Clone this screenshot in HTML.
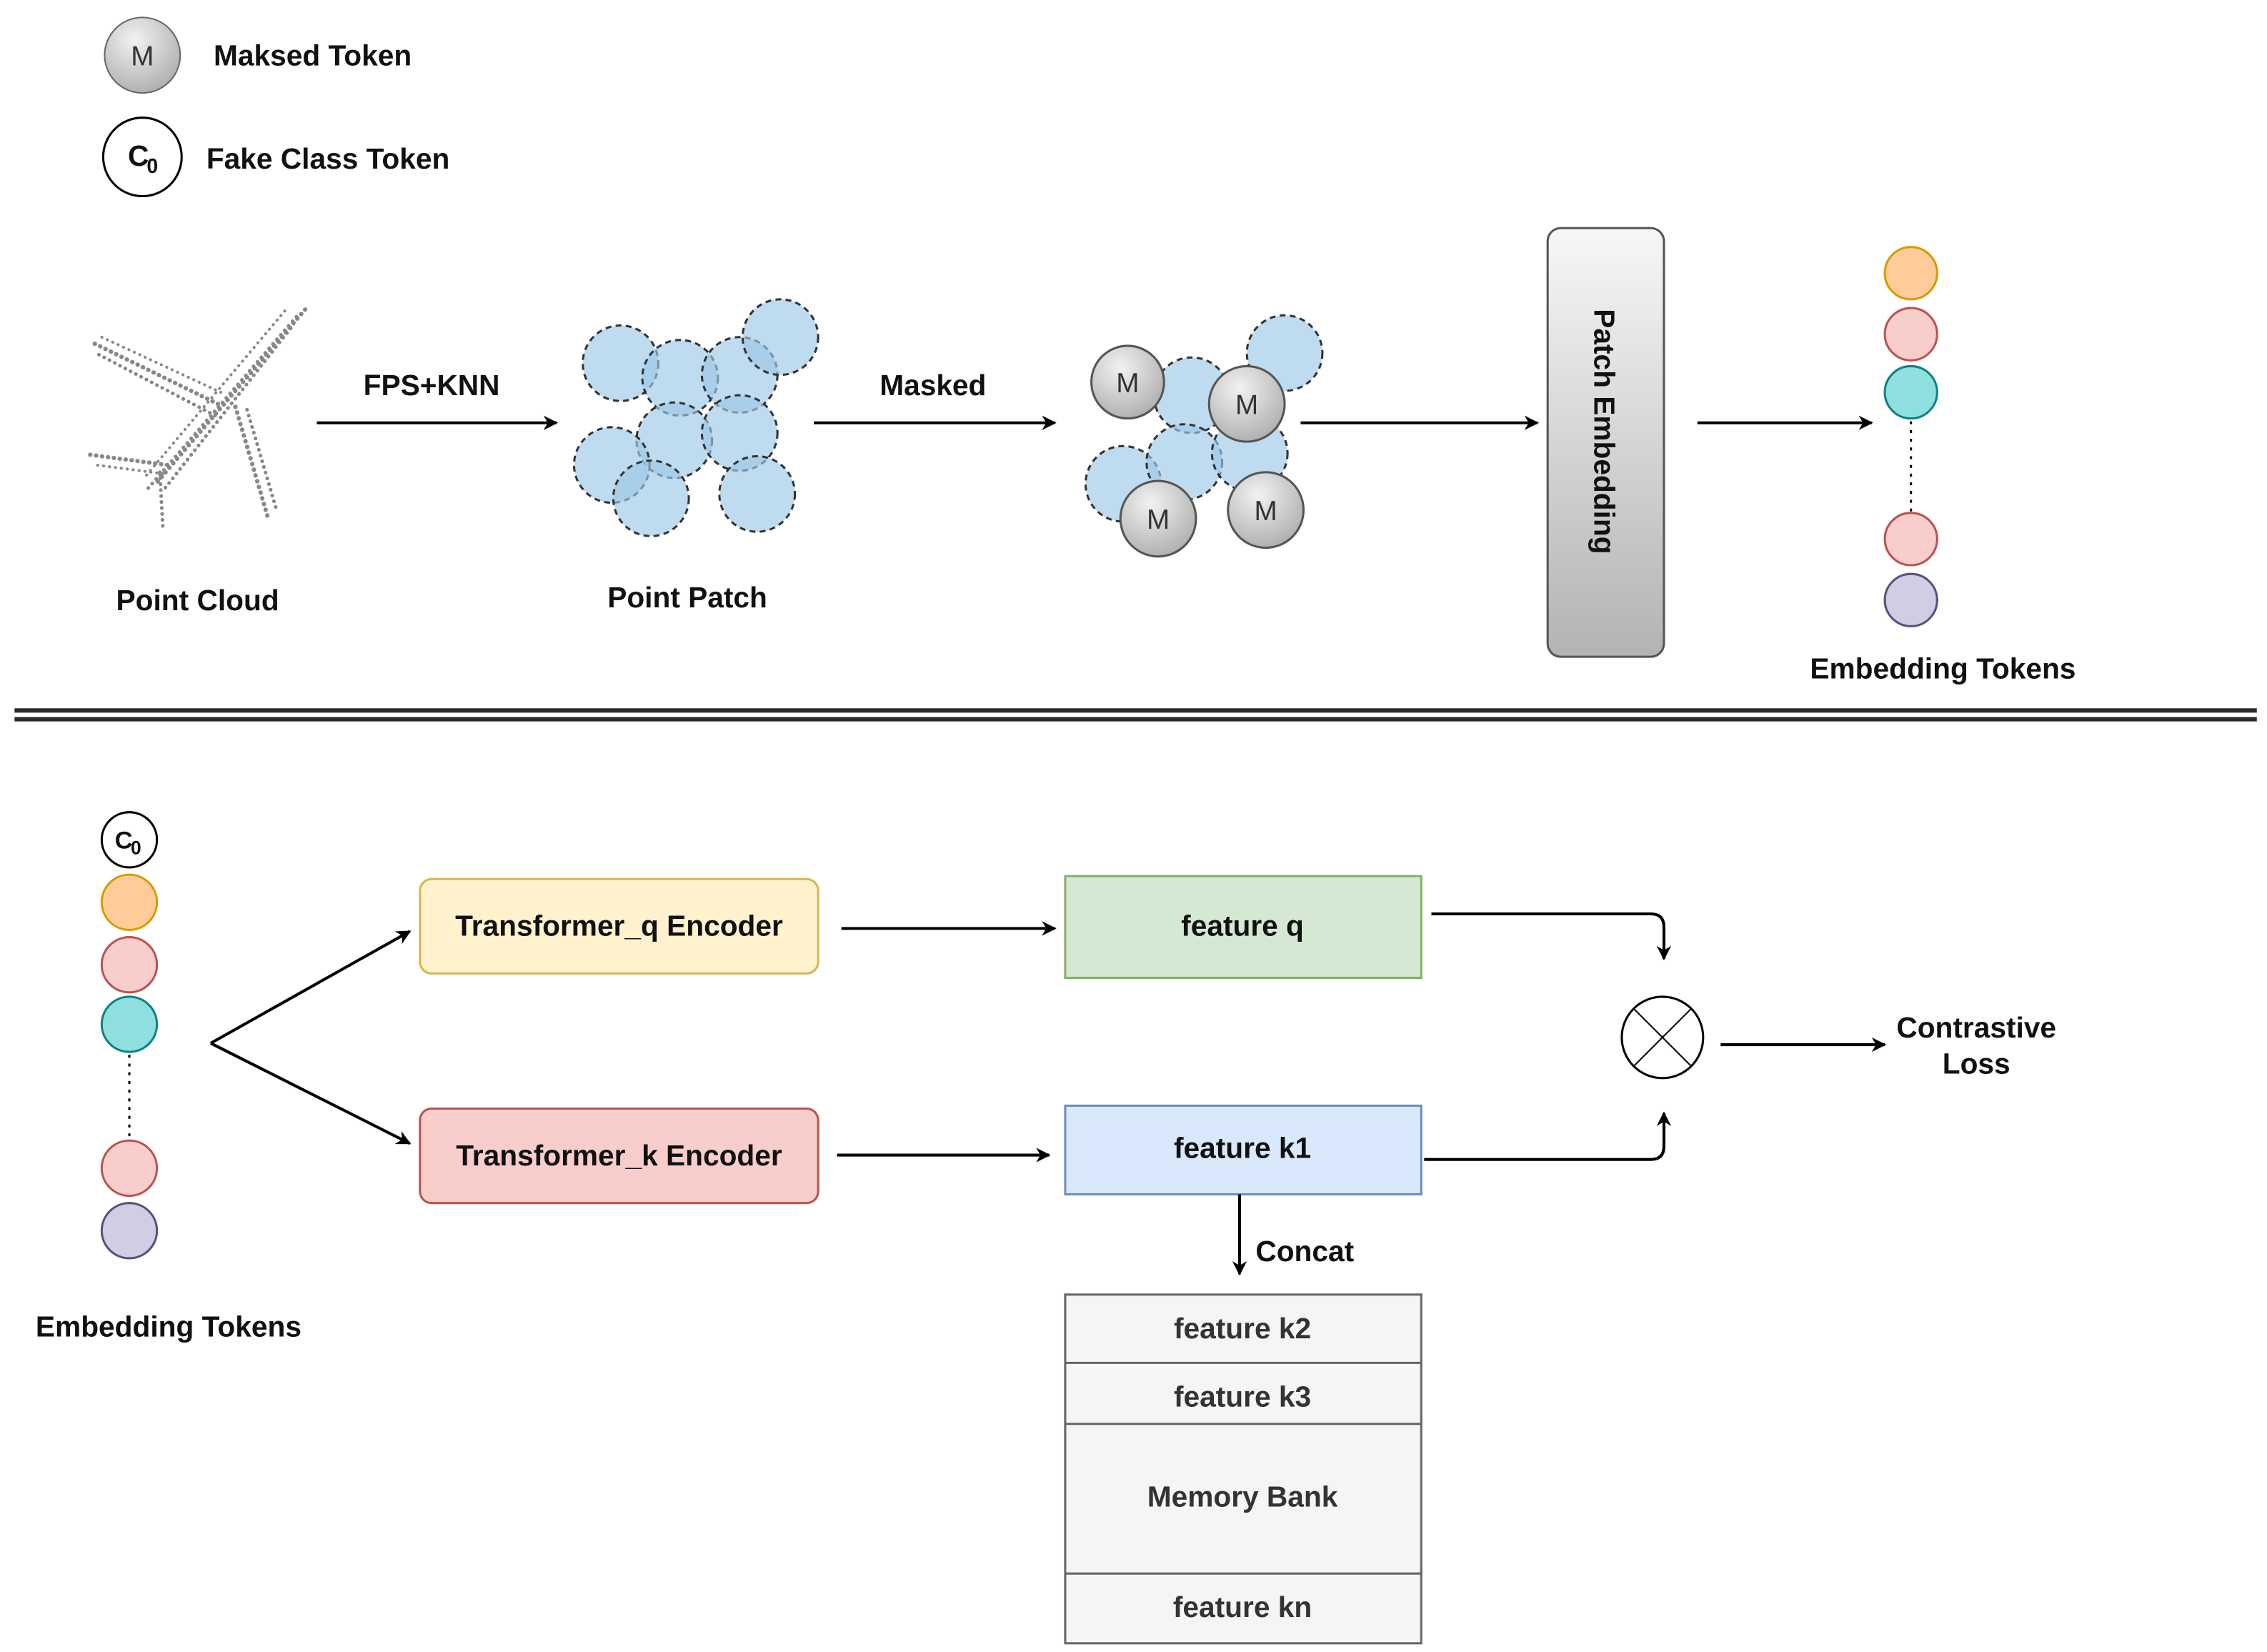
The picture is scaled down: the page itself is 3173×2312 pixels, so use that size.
<!DOCTYPE html>
<html><head><style>html,body{margin:0;padding:0;background:#fff}svg{display:block}</style></head>
<body>
<svg width="3173" height="2312" viewBox="0 0 1560 1137" preserveAspectRatio="none" xmlns="http://www.w3.org/2000/svg" font-family="Liberation Sans, Arial, sans-serif">
<defs>
<radialGradient id="mg" cx="0.4" cy="0.3" r="0.8"><stop offset="0" stop-color="#f2f2f2"/><stop offset="1" stop-color="#a8a8a8"/></radialGradient>
<linearGradient id="pg" x1="0" y1="0" x2="0" y2="1"><stop offset="0" stop-color="#f7f7f7"/><stop offset="1" stop-color="#b3b3b3"/></linearGradient>
<marker id="ar" markerWidth="10" markerHeight="10" refX="9" refY="5" orient="auto" markerUnits="userSpaceOnUse"><path d="M0,0 L10,5 L0,10 L3,5 z" fill="#000"/></marker>
</defs>
<g font-weight="bold" font-size="20" fill="#111">
<!-- legend -->
<circle cx="98" cy="38" r="26" fill="url(#mg)" stroke="#666" stroke-width="1"/>
<text x="98" y="45" text-anchor="middle" font-weight="normal" font-size="19" fill="#333">M</text>
<text x="147" y="45">Maksed Token</text>
<circle cx="98" cy="108" r="27" fill="#fff" stroke="#000" stroke-width="1.5"/>
<text x="88" y="114" font-size="20">C</text><text x="101" y="119" font-size="14">0</text>
<text x="142" y="116">Fake Class Token</text>

<!-- airplane -->
<g stroke="#888" fill="none" stroke-linecap="round" stroke-dasharray="0.1 4">
<path d="M210,213 L108,332" stroke-width="3"/>
<path d="M204,218 L102,336" stroke-width="2.5"/>
<path d="M200,226 L112,338" stroke-width="2.5"/>
<path d="M196,214 L100,328" stroke-width="2"/>
<path d="M150,278 L62,235" stroke-width="3"/>
<path d="M148,286 L66,243" stroke-width="2.5"/>
<path d="M152,270 L70,232" stroke-width="2"/>
<path d="M162,280 L184,355" stroke-width="3"/>
<path d="M170,282 L190,350" stroke-width="2.5"/>
<path d="M115,320 L62,313" stroke-width="3"/>
<path d="M112,326 L66,320" stroke-width="2"/>
<path d="M110,325 L112,362" stroke-width="2.5"/>
</g>
<text x="136" y="420" text-anchor="middle">Point Cloud</text>

<line x1="218" y1="291" x2="383" y2="291" stroke="#000" stroke-width="2" marker-end="url(#ar)"/>
<text x="297" y="272" text-anchor="middle">FPS+KNN</text>

<!-- point patch -->
<g fill="#9cc8e6" fill-opacity="0.65" stroke="#333" stroke-width="1.5" stroke-dasharray="4 3">
<circle cx="427" cy="250" r="26"/><circle cx="468" cy="260" r="26"/><circle cx="509" cy="258" r="26"/>
<circle cx="537" cy="232" r="26"/><circle cx="464" cy="303" r="26"/><circle cx="509" cy="298" r="26"/>
<circle cx="421" cy="320" r="26"/><circle cx="448" cy="343" r="26"/><circle cx="521" cy="340" r="26"/>
</g>
<text x="473" y="418" text-anchor="middle">Point Patch</text>

<line x1="560" y1="291" x2="726" y2="291" stroke="#000" stroke-width="2" marker-end="url(#ar)"/>
<text x="642" y="272" text-anchor="middle">Masked</text>

<!-- masked -->
<g fill="#9cc8e6" fill-opacity="0.65" stroke="#333" stroke-width="1.5" stroke-dasharray="4 3">
<circle cx="820" cy="272" r="26"/><circle cx="884" cy="243" r="26"/><circle cx="773" cy="333" r="26"/>
<circle cx="815" cy="318" r="26"/><circle cx="860" cy="312" r="26"/>
</g>
<g fill="url(#mg)" stroke="#555" stroke-width="1.5">
<circle cx="776" cy="263" r="25"/><circle cx="858" cy="278" r="26"/><circle cx="797" cy="357" r="26"/><circle cx="871" cy="351" r="26"/>
</g>
<g font-weight="normal" fill="#333" text-anchor="middle" font-size="19">
<text x="776" y="270">M</text><text x="858" y="285">M</text><text x="797" y="364">M</text><text x="871" y="358">M</text>
</g>

<line x1="895" y1="291" x2="1058" y2="291" stroke="#000" stroke-width="2" marker-end="url(#ar)"/>
<rect x="1065" y="157" width="80" height="295" rx="9" fill="url(#pg)" stroke="#555" stroke-width="1.5"/>
<text transform="translate(1097,297) rotate(90)" text-anchor="middle">Patch Embedding</text>

<line x1="1168" y1="291" x2="1288" y2="291" stroke="#000" stroke-width="2" marker-end="url(#ar)"/>
<circle cx="1315" cy="188" r="18" fill="#ffcc99" stroke="#d79b00" stroke-width="1.5"/>
<circle cx="1315" cy="230" r="18" fill="#f8cecc" stroke="#b85450" stroke-width="1.5"/>
<circle cx="1315" cy="270" r="18" fill="#8fdfde" stroke="#0e8088" stroke-width="1.5"/>
<line x1="1315" y1="290" x2="1315" y2="352" stroke="#000" stroke-width="1.5" stroke-dasharray="2 4"/>
<circle cx="1315" cy="371" r="18" fill="#f8cecc" stroke="#b85450" stroke-width="1.5"/>
<circle cx="1315" cy="413" r="18" fill="#d0cee2" stroke="#56517e" stroke-width="1.5"/>
<text x="1337" y="467" text-anchor="middle">Embedding Tokens</text>

<line x1="10" y1="489" x2="1553" y2="489" stroke="#2a2a2a" stroke-width="3"/>
<line x1="10" y1="495" x2="1553" y2="495" stroke="#2a2a2a" stroke-width="3"/>

<!-- bottom tokens -->
<circle cx="89" cy="578" r="19" fill="#fff" stroke="#000" stroke-width="1.5"/>
<text x="79" y="584" font-size="17">C</text><text x="90" y="588" font-size="13">0</text>
<circle cx="89" cy="621" r="19" fill="#ffcc99" stroke="#d79b00" stroke-width="1.5"/>
<circle cx="89" cy="664" r="19" fill="#f8cecc" stroke="#b85450" stroke-width="1.5"/>
<circle cx="89" cy="705" r="19" fill="#8fdfde" stroke="#0e8088" stroke-width="1.5"/>
<line x1="89" y1="726" x2="89" y2="785" stroke="#000" stroke-width="1.5" stroke-dasharray="2 4"/>
<circle cx="89" cy="804" r="19" fill="#f8cecc" stroke="#b85450" stroke-width="1.5"/>
<circle cx="89" cy="847" r="19" fill="#d0cee2" stroke="#56517e" stroke-width="1.5"/>
<text x="116" y="920" text-anchor="middle">Embedding Tokens</text>

<line x1="145" y1="718" x2="282" y2="641" stroke="#000" stroke-width="2" marker-end="url(#ar)"/>
<line x1="145" y1="718" x2="282" y2="787" stroke="#000" stroke-width="2" marker-end="url(#ar)"/>

<rect x="289" y="605" width="274" height="65" rx="8" fill="#fff2cc" stroke="#d6b656" stroke-width="1.5"/>
<text x="426" y="644" text-anchor="middle">Transformer_q Encoder</text>
<rect x="289" y="763" width="274" height="65" rx="8" fill="#f8cecc" stroke="#b85450" stroke-width="1.5"/>
<text x="426" y="802" text-anchor="middle">Transformer_k Encoder</text>

<line x1="579" y1="639" x2="726" y2="639" stroke="#000" stroke-width="2" marker-end="url(#ar)"/>
<line x1="576" y1="795" x2="722" y2="795" stroke="#000" stroke-width="2" marker-end="url(#ar)"/>

<rect x="733" y="603" width="245" height="70" fill="#d5e8d4" stroke="#82b366" stroke-width="1.5"/>
<text x="855" y="644" text-anchor="middle">feature q</text>
<rect x="733" y="761" width="245" height="61" fill="#dae8fc" stroke="#6c8ebf" stroke-width="1.5"/>
<text x="855" y="797" text-anchor="middle">feature k1</text>

<path d="M985,629 L1136,629 Q1145,629 1145,638 L1145,660" fill="none" stroke="#000" stroke-width="2" marker-end="url(#ar)"/>
<path d="M980,798 L1136,798 Q1145,798 1145,789 L1145,766" fill="none" stroke="#000" stroke-width="2" marker-end="url(#ar)"/>

<circle cx="1144" cy="714" r="28" fill="#fff" stroke="#000" stroke-width="1.5"/>
<line x1="1124" y1="694" x2="1164" y2="734" stroke="#000" stroke-width="1"/>
<line x1="1164" y1="694" x2="1124" y2="734" stroke="#000" stroke-width="1"/>

<line x1="1184" y1="719" x2="1297" y2="719" stroke="#000" stroke-width="2" marker-end="url(#ar)"/>
<text x="1360" y="714" text-anchor="middle">Contrastive</text>
<text x="1360" y="739" text-anchor="middle">Loss</text>

<line x1="853" y1="822" x2="853" y2="877" stroke="#000" stroke-width="2" marker-end="url(#ar)"/>
<text x="864" y="868">Concat</text>

<rect x="733" y="891" width="245" height="240" fill="#f5f5f5" stroke="#666" stroke-width="1.5"/>
<line x1="733" y1="938" x2="978" y2="938" stroke="#666" stroke-width="1.5"/>
<line x1="733" y1="980" x2="978" y2="980" stroke="#666" stroke-width="1.5"/>
<line x1="733" y1="1083" x2="978" y2="1083" stroke="#666" stroke-width="1.5"/>
<g fill="#333" text-anchor="middle">
<text x="855" y="921">feature k2</text>
<text x="855" y="968">feature k3</text>
<text x="855" y="1037">Memory Bank</text>
<text x="855" y="1113">feature kn</text>
</g>
</g>
</svg>
</body></html>
